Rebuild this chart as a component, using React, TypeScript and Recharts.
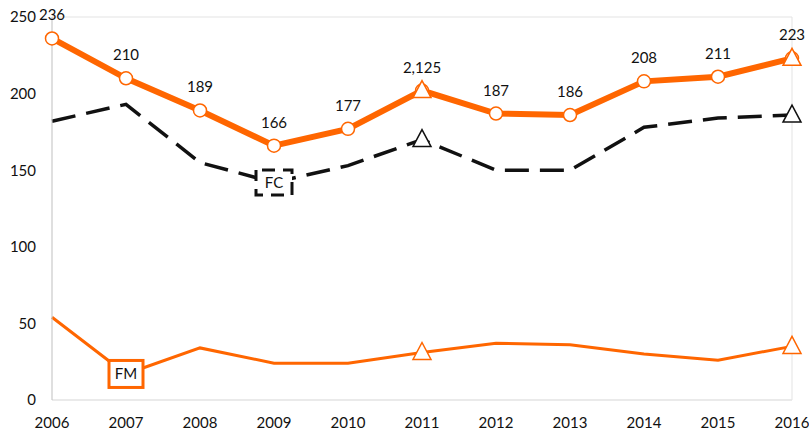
import React from 'react';
import { LineChart, Line, XAxis, YAxis, ReferenceLine, LabelList } from 'recharts';

const ORANGE = '#FF6600';
const INK = '#111111';
const AXIS_DARK = '#BFBFBF';
const AXIS_LIGHT = '#E3E3E3';
const FONT = 'Lato, "DejaVu Sans", sans-serif';

// data
const YEARS = [2006, 2007, 2008, 2009, 2010, 2011, 2012, 2013, 2014, 2015, 2016];
const TOTAL = [236, 210, 189, 166, 177, 202, 187, 186, 208, 211, 223];
const TOTAL_LABELS = ['236', '210', '189', '166', '177', '2,125', '187', '186', '208', '211', '223'];
const FC = [182, 193, 155, 142, 153, 170, 150, 150, 178, 184, 186];
const FM = [54, 17, 34, 24, 24, 31, 37, 36, 30, 26, 35];
const Y_TICKS = [0, 50, 100, 150, 200, 250];
const TRIANGLE_YEARS = [2011, 2016];
const FC_TAG_YEAR = 2009;
const FM_TAG_YEAR = 2007;

const data = YEARS.map((year, i) => ({
  year,
  total: TOTAL[i],
  label: TOTAL_LABELS[i],
  fc: FC[i],
  fm: FM[i],
}));

function triangle(cx: number, cy: number, color: string, key: string) {
  return (
    <path
      key={key}
      d={`M${cx},${cy - 10} L${cx + 9},${cy + 7} L${cx - 9},${cy + 7} Z`}
      fill="#fff"
      stroke={color}
      strokeWidth={1.5}
    />
  );
}

const totalDot = (props: any) => {
  const { cx, cy, payload, index } = props;
  return (
    <g key={`t-${index}`}>
      <circle cx={cx} cy={cy} r={6.5} fill="#fff" stroke={ORANGE} strokeWidth={1.5} />
      {TRIANGLE_YEARS.includes(payload.year) && triangle(cx, cy, ORANGE, 'tri')}
    </g>
  );
};

const fcDot = (props: any) => {
  const { cx, cy, payload, index } = props;
  if (payload.year === FC_TAG_YEAR) {
    return (
      <g key={`fc-${index}`}>
        <rect
          x={cx - 18}
          y={cy - 12.5}
          width={36}
          height={25}
          fill="#fff"
          stroke={INK}
          strokeWidth={3}
          strokeDasharray="13 8"
          strokeDashoffset={-6}
        />
        <text x={cx} y={cy + 5.5} textAnchor="middle" fontFamily={FONT} fontSize={15} fill={INK}>
          FC
        </text>
      </g>
    );
  }
  if (TRIANGLE_YEARS.includes(payload.year)) {
    return <g key={`fc-${index}`}>{triangle(cx, cy, INK, 'tri')}</g>;
  }
  return <g key={`fc-${index}`} />;
};

const fmDot = (props: any) => {
  const { cx, cy, payload, index } = props;
  if (payload.year === FM_TAG_YEAR) {
    return (
      <g key={`fm-${index}`}>
        <rect x={cx - 17} y={cy - 13.5} width={34} height={27} fill="#fff" stroke={ORANGE} strokeWidth={3} />
        <text x={cx} y={cy + 5.5} textAnchor="middle" fontFamily={FONT} fontSize={15} fill={INK}>
          FM
        </text>
      </g>
    );
  }
  if (TRIANGLE_YEARS.includes(payload.year)) {
    return <g key={`fm-${index}`}>{triangle(cx, cy, ORANGE, 'tri')}</g>;
  }
  return <g key={`fm-${index}`} />;
};

const renderTotalLabel = (props: any) => {
  const { x, y, value, index } = props;
  return (
    <text key={`lbl-${index}`} x={x} y={y - 18} textAnchor="middle" fontFamily={FONT} fontSize={15} fill={INK}>
      {value}
    </text>
  );
};

export default function App() {
  const tick = { fontFamily: FONT, fontSize: 15, fill: INK };
  return (
    <div style={{ position: 'absolute', left: 0, top: 0, background: '#fff' }}>
      <LineChart width={809} height={434} data={data} margin={{ top: 17, right: 17, bottom: 0, left: 0 }}>
        <XAxis
          dataKey="year"
          type="number"
          domain={[2006, 2016]}
          ticks={YEARS}
          interval={0}
          height={34}
          tick={tick}
          tickLine={false}
          tickSize={0}
          tickMargin={17}
          axisLine={{ stroke: AXIS_LIGHT, strokeWidth: 1.5 }}
        />
        <YAxis
          domain={[0, 250]}
          ticks={Y_TICKS}
          width={52}
          tick={tick}
          tickLine={false}
          tickSize={0}
          tickMargin={16}
          axisLine={{ stroke: AXIS_DARK, strokeWidth: 1 }}
        />
        <ReferenceLine y={250} stroke={AXIS_LIGHT} strokeWidth={1} />
        <ReferenceLine x={2016} stroke={AXIS_LIGHT} strokeWidth={1} />
        <Line
          dataKey="fm"
          stroke={ORANGE}
          strokeWidth={3}
          dot={fmDot}
          activeDot={false}
          isAnimationActive={false}
        />
        <Line
          dataKey="fc"
          stroke={INK}
          strokeWidth={3.5}
          strokeDasharray="24 11"
          dot={fcDot}
          activeDot={false}
          isAnimationActive={false}
        />
        <Line
          dataKey="total"
          stroke={ORANGE}
          strokeWidth={6}
          dot={totalDot}
          activeDot={false}
          isAnimationActive={false}
        >
          <LabelList dataKey="label" content={renderTotalLabel} />
        </Line>
      </LineChart>
    </div>
  );
}
